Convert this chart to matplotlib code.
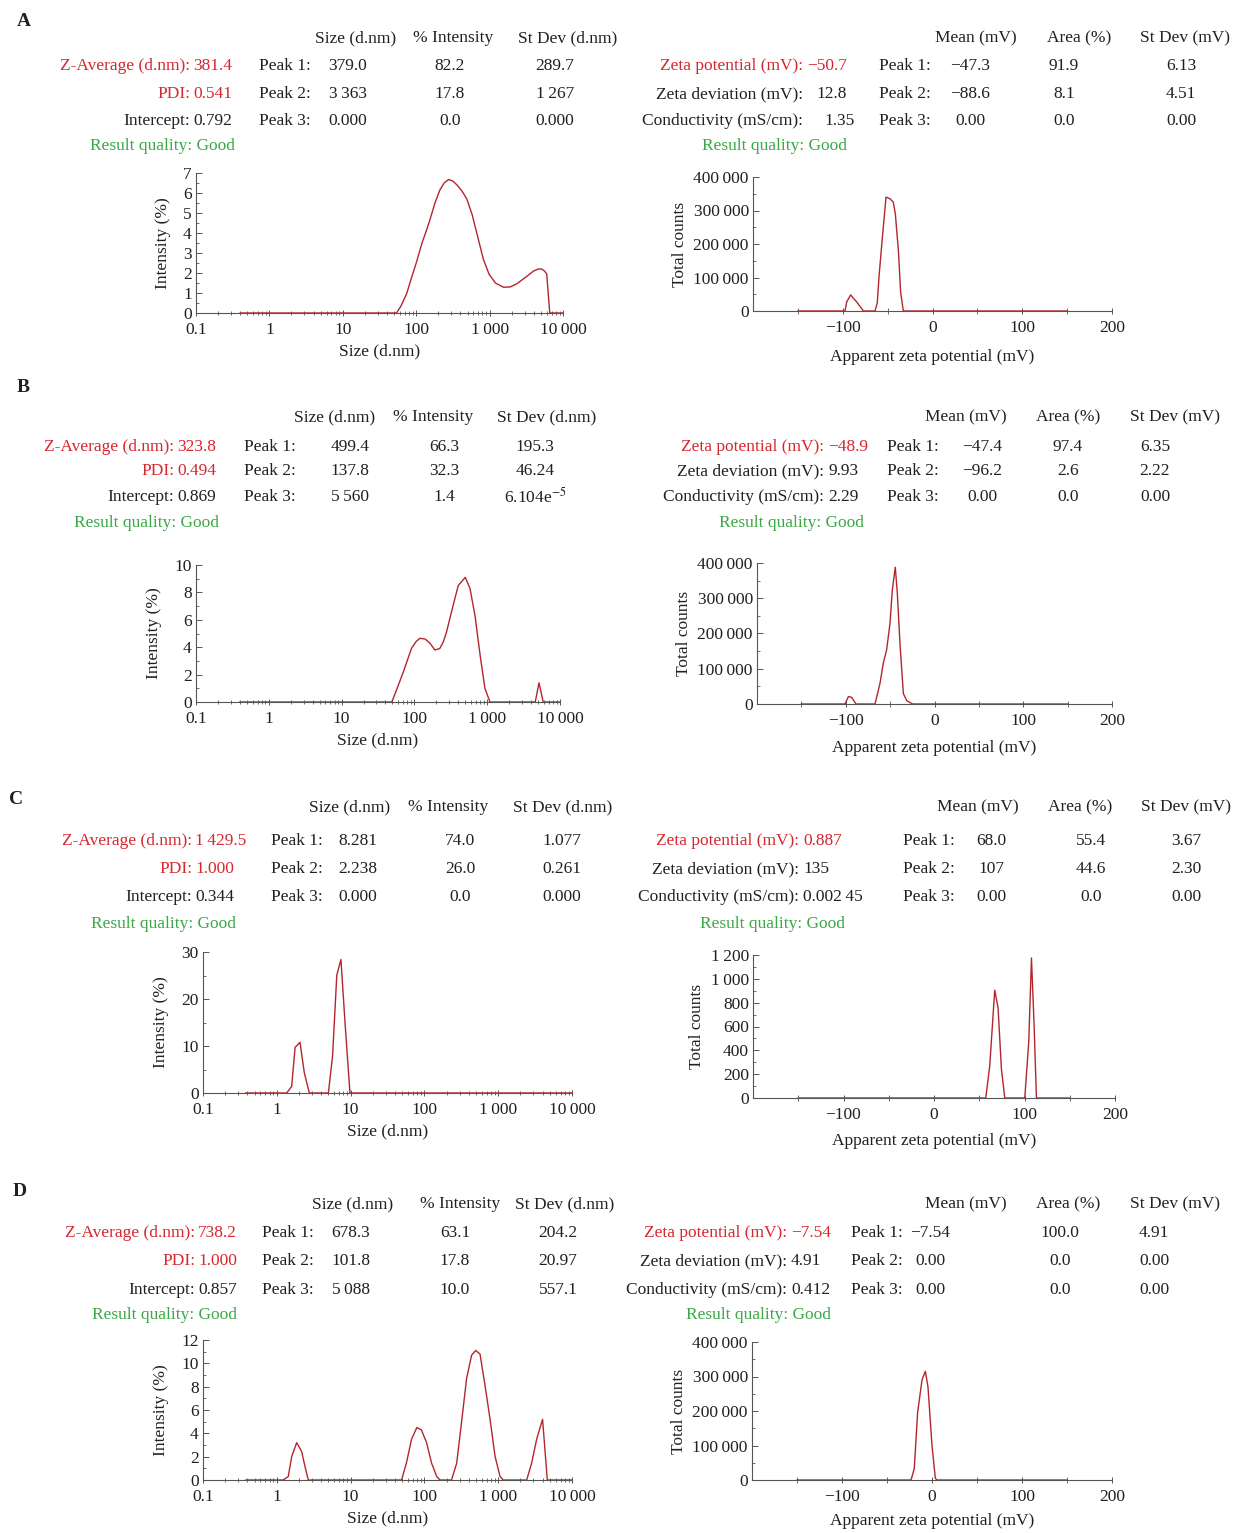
import matplotlib
matplotlib.use('Agg')
import matplotlib.pyplot as plt
from matplotlib.ticker import FixedLocator, FuncFormatter, MultipleLocator, LogLocator, NullFormatter

plt.rcParams['font.family'] = ['Liberation Serif', 'DejaVu Serif']
plt.rcParams['mathtext.fontset'] = 'stix'
plt.rcParams['font.size'] = 12.5

# ---- data ----
letters = ['A', 'B', 'C', 'D']

z_average = ['381.4', '323.8', '1\u2009429.5', '738.2']
pdi = ['0.541', '0.494', '1.000', '1.000']
intercept = ['0.792', '0.869', '0.344', '0.857']
size_peaks = [
    [['379.0', '82.2', '289.7'], ['3\u2009363', '17.8', '1\u2009267'], ['0.000', '0.0', '0.000']],
    [['499.4', '66.3', '195.3'], ['137.8', '32.3', '46.24'], ['5\u2009560', '1.4', '6.104e$^{-5}$']],
    [['8.281', '74.0', '1.077'], ['2.238', '26.0', '0.261'], ['0.000', '0.0', '0.000']],
    [['678.3', '63.1', '204.2'], ['101.8', '17.8', '20.97'], ['5\u2009088', '10.0', '557.1']],
]
zeta_potential = ['\u221250.7', '\u221248.9', '0.887', '\u22127.54']
zeta_deviation = ['12.8', '9.93', '135', '4.91']
conductivity = ['1.35', '2.29', '0.002\u200945', '0.412']
zeta_peaks = [
    [['\u221247.3', '91.9', '6.13'], ['\u221288.6', '8.1', '4.51'], ['0.00', '0.0', '0.00']],
    [['\u221247.4', '97.4', '6.35'], ['\u221296.2', '2.6', '2.22'], ['0.00', '0.0', '0.00']],
    [['68.0', '55.4', '3.67'], ['107', '44.6', '2.30'], ['0.00', '0.0', '0.00']],
    [['\u22127.54', '100.0', '4.91'], ['0.00', '0.0', '0.00'], ['0.00', '0.0', '0.00']],
]
size_headers = ['Size (d.nm)', '% Intensity', 'St Dev (d.nm)']
zeta_headers = ['Mean (mV)', 'Area (%)', 'St Dev (mV)']

sizeA_nm = [0.4, 1, 10, 54, 62, 74, 87, 102, 120, 137, 155, 180, 210, 240, 275, 315, 360, 420, 490, 580,
            690, 820, 980, 1200, 1540, 1900, 2350, 3000, 3980, 4600, 5100, 5600, 6000, 6600, 10000]
sizeA_int = [0, 0, 0, 0, 0.35, 0.96, 1.8, 2.6, 3.5, 4.1, 4.7, 5.5, 6.15, 6.5, 6.67, 6.6, 6.4, 6.1, 5.7, 4.9,
             3.8, 2.7, 1.95, 1.5, 1.29, 1.3, 1.46, 1.75, 2.1, 2.2, 2.2, 2.1, 1.95, 0, 0]
sizeB_nm = [0.4, 1, 10, 49, 58, 71, 91, 105, 119, 140, 163, 191, 223, 250, 276, 324, 400, 500, 580, 680,
            800, 930, 1090, 4570, 5150, 5880, 10000]
sizeB_int = [0, 0, 0, 0, 1.0, 2.24, 3.9, 4.4, 4.65, 4.6, 4.3, 3.8, 3.9, 4.4, 5.1, 6.6, 8.5, 9.1, 8.3, 6.3,
             3.4, 1.0, 0, 0, 1.4, 0, 0]
sizeC_nm = [0.38, 1, 1.36, 1.59, 1.77, 2.06, 2.36, 2.76, 5.0, 5.7, 6.5, 7.4, 8.4, 9.8, 100, 10000]
sizeC_int = [0, 0, 0, 1.4, 9.7, 10.8, 4.3, 0, 0, 7.9, 25.1, 28.4, 15, 0, 0, 0]
sizeD_nm = [0.38, 1, 1.22, 1.43, 1.59, 1.86, 2.17, 2.41, 2.67, 10, 49, 57, 67, 79, 91, 107, 125, 147, 163, 233,
            274, 318, 373, 436, 495, 567, 663, 776, 908, 1060, 1170, 2430, 2840, 3320, 3990, 4630, 10000]
sizeD_int = [0, 0, 0, 0.3, 2.0, 3.2, 2.45, 1.15, 0, 0, 0, 1.45, 3.5, 4.5, 4.3, 3.2, 1.45, 0.3, 0, 0,
             1.45, 4.9, 8.7, 10.7, 11.1, 10.8, 8.1, 5.2, 2.0, 0.3, 0, 0, 1.45, 3.5, 5.2, 0, 0]

zetaA_mv = [-150, -97.5, -95.6, -91.2, -84.5, -77, -64, -61.5, -59.6, -55.5, -51.8, -47.4, -43.7, -41.4,
            -38, -35.5, -32.5, 150]
zetaA_cnt = [0, 0, 27000, 48000, 27000, 0, 0, 25000, 103000, 230000, 340000, 335000, 325000, 290000,
             180000, 56000, 0, 0]
zetaB_mv = [-150, -100.8, -97, -93.3, -88.5, -67, -61.4, -57.7, -53.9, -50.1, -47.5, -44.2, -41.9, -38.9,
            -35.1, -31.3, -27.6, -24.6, 150]
zetaB_cnt = [0, 0, 21000, 19000, 0, 0, 59000, 116000, 154000, 230000, 324000, 388000, 315000, 172000,
             30000, 9500, 4000, 0, 0]
zetaC_mv = [-150, 57.2, 61.6, 67.1, 70.8, 74.5, 78.2, 100.3, 104.7, 107.7, 110.6, 113.2, 150]
zetaC_cnt = [0, 0, 271, 905, 757, 243, 0, 0, 471, 1175, 614, 0, 0]
zetaD_mv = [-150, -23.3, -19.7, -16, -11.1, -7.4, -4.5, 0, 3.7, 5.5, 150]
zetaD_cnt = [0, 0, 33000, 195000, 290000, 315000, 271000, 100000, 5000, 0, 0]

size_curves = [(sizeA_nm, sizeA_int), (sizeB_nm, sizeB_int), (sizeC_nm, sizeC_int), (sizeD_nm, sizeD_int)]
zeta_curves = [(zetaA_mv, zetaA_cnt), (zetaB_mv, zetaB_cnt), (zetaC_mv, zetaC_cnt), (zetaD_mv, zetaD_cnt)]
size_ymax = [7, 10, 30, 12]
size_ystep = [1, 2, 10, 2]
zeta_ymax = [400000, 400000, 1200, 400000]
zeta_ystep = [100000, 100000, 200, 100000]
size_ticks = [0.1, 1, 10, 100, 1000, 10000]

# ---- layout (pixels in the 1234x1533 canvas) ----
layout = [
    dict(letter=(17, 20), rows=(36, 64, 92, 119, 144),
         lcolon=190, green_r=235, peak=259, cols=(348, 450, 555), hdr=(356, 453, 568),
         zcolon=803, zval=(847, 'right'), zgreen_r=847, zpeak=879, zcols=(970, 1064, 1181), zhdr=(976, 1079, 1185),
         sax=(196, 173, 563, 313), zax=(753, 177, 1112, 311), zpad=9),
    dict(letter=(17, 385), rows=(415, 445, 469, 495, 521),
         lcolon=174, green_r=219, peak=244, cols=(350, 444, 535), hdr=(335, 433, 547),
         zcolon=824, zval=(828, 'left'), zgreen_r=864, zpeak=887, zcols=(982, 1068, 1155), zhdr=(966, 1068, 1175),
         sax=(196, 565, 560, 702), zax=(757, 563, 1112, 704), zpad=8),
    dict(letter=(9, 797), rows=(805, 839, 867, 895, 922),
         lcolon=192, green_r=236, peak=271, cols=(358, 460, 562), hdr=(350, 448, 563),
         zcolon=799, zval=(803, 'left'), zgreen_r=845, zpeak=903, zcols=(991, 1091, 1186), zhdr=(978, 1080, 1186),
         sax=(203, 952, 572, 1093), zax=(753, 955, 1115, 1098), zpad=7),
    dict(letter=(13, 1190), rows=(1202, 1231, 1259, 1288, 1313),
         lcolon=195, green_r=237, peak=262, cols=(351, 455, 558), hdr=(353, 460, 565),
         zcolon=787, zval=(791, 'left'), zgreen_r=831, zpeak=851, zcols=(930, 1060, 1154), zhdr=(966, 1068, 1175),
         sax=(203, 1340, 572, 1480), zax=(752, 1342, 1112, 1480), zpad=6),
]

INK = '#231f20'
RED = '#d7262e'
GREEN = '#3aa845'
LINE = '#b3262c'
AXC = '#555555'
FS = 12.5

W, H = 1234, 1533
fig = plt.figure(figsize=(W / 100, H / 100), dpi=100)


def txt(x, y, s, ha='left', color=INK, **kw):
    kw.setdefault('fontsize', FS)
    fig.text(x / W, 1 - y / H, s, ha=ha, va='center_baseline', color=color, **kw)


def px_axes(l, t, r, b):
    return fig.add_axes([l / W, 1 - b / H, (r - l) / W, (b - t) / H])


def thousands(v, pos=None):
    if 0 < v < 1:
        return '0.1'
    return f'{int(round(v)):,}'.replace(',', '\u2009').replace('-', '\u2212')


def style(ax):
    for s in ['top', 'right']:
        ax.spines[s].set_visible(False)
    for s in ['left', 'bottom']:
        ax.spines[s].set_color(AXC)
        ax.spines[s].set_linewidth(0.8)
    ax.tick_params(axis='y', which='both', direction='in', color=AXC, labelcolor=INK, labelsize=FS, pad=3)
    ax.tick_params(axis='y', which='major', length=4, width=0.7)
    ax.tick_params(axis='y', which='minor', length=2.5, width=0.6)
    ax.tick_params(axis='x', which='both', direction='inout', color=AXC, labelcolor=INK, labelsize=FS, pad=4)
    ax.tick_params(axis='x', which='major', length=5, width=0.7)
    ax.tick_params(axis='x', which='minor', length=3, width=0.6)
    ax.patch.set_alpha(0)


for i in range(4):
    L = layout[i]
    y0, y1, y2, y3, y4 = L['rows']
    txt(L['letter'][0], L['letter'][1], letters[i], weight='bold', fontsize=14)

    # size summary block
    for cx, h in zip(L['hdr'], size_headers):
        txt(cx, y0, h, ha='center')
    lc = L['lcolon']
    txt(lc, y1, 'Z-Average (d.nm):', ha='right', color=RED)
    txt(lc + 3, y1, z_average[i], color=RED)
    txt(lc, y2, 'PDI:', ha='right', color=RED)
    txt(lc + 3, y2, pdi[i], color=RED)
    txt(lc, y3, 'Intercept:', ha='right')
    txt(lc + 3, y3, intercept[i])
    txt(L['green_r'], y4, 'Result quality: Good', ha='right', color=GREEN)
    for k, yy in enumerate((y1, y2, y3)):
        txt(L['peak'], yy, f'Peak {k + 1}:')
        for cx, v in zip(L['cols'], size_peaks[i][k]):
            txt(cx, yy, v, ha='center')

    # zeta summary block
    for cx, h in zip(L['zhdr'], zeta_headers):
        txt(cx, y0, h, ha='center')
    zc = L['zcolon']
    vx, vha = L['zval']
    txt(zc, y1, 'Zeta potential (mV):', ha='right', color=RED)
    txt(vx, y1, zeta_potential[i], ha=vha, color=RED)
    txt(zc, y2, 'Zeta deviation (mV):', ha='right')
    txt(vx, y2, zeta_deviation[i], ha=vha)
    txt(zc, y3, 'Conductivity (mS/cm):', ha='right')
    txt(vx + (8 if vha == 'right' else 0), y3, conductivity[i], ha=vha)
    txt(L['zgreen_r'], y4, 'Result quality: Good', ha='right', color=GREEN)
    for k, yy in enumerate((y1, y2, y3)):
        txt(L['zpeak'], yy, f'Peak {k + 1}:')
        for cx, v in zip(L['zcols'], zeta_peaks[i][k]):
            txt(cx, yy, v, ha='center')

    # size distribution plot
    ax = px_axes(*L['sax'])
    style(ax)
    xs, ys = size_curves[i]
    ax.plot(xs, ys, color=LINE, lw=1.0, clip_on=False)
    ax.set_xscale('log')
    ax.set_xlim(0.1, 10000)
    ax.set_ylim(0, size_ymax[i])
    ax.xaxis.set_major_locator(FixedLocator(size_ticks))
    ax.xaxis.set_major_formatter(FuncFormatter(thousands))
    ax.xaxis.set_minor_locator(LogLocator(base=10, subs=range(2, 10)))
    ax.xaxis.set_minor_formatter(NullFormatter())
    ax.yaxis.set_major_locator(MultipleLocator(size_ystep[i]))
    ax.yaxis.set_minor_locator(MultipleLocator(size_ystep[i] / 2))
    ax.set_xlabel('Size (d.nm)', fontsize=FS, color=INK, labelpad=4)
    ax.set_ylabel('Intensity (%)', fontsize=FS, color=INK, labelpad=9)

    # zeta potential plot
    az = px_axes(*L['zax'])
    style(az)
    xs, ys = zeta_curves[i]
    az.plot(xs, ys, color=LINE, lw=1.0, clip_on=False)
    az.set_xlim(-200, 200)
    az.set_ylim(0, zeta_ymax[i])
    az.xaxis.set_major_locator(FixedLocator([-100, 0, 100, 200]))
    az.xaxis.set_major_formatter(FuncFormatter(thousands))
    az.xaxis.set_minor_locator(FixedLocator([-150, -50, 50, 150]))
    az.tick_params(axis='x', which='minor', length=5)
    az.yaxis.set_major_locator(MultipleLocator(zeta_ystep[i]))
    az.yaxis.set_minor_locator(MultipleLocator(zeta_ystep[i] / 2))
    az.yaxis.set_major_formatter(FuncFormatter(thousands))
    az.set_xlabel('Apparent zeta potential (mV)', fontsize=FS, color=INK, labelpad=L['zpad'])
    az.set_ylabel('Total counts', fontsize=FS, color=INK, labelpad=4)

fig.savefig('out.png', dpi=100)
